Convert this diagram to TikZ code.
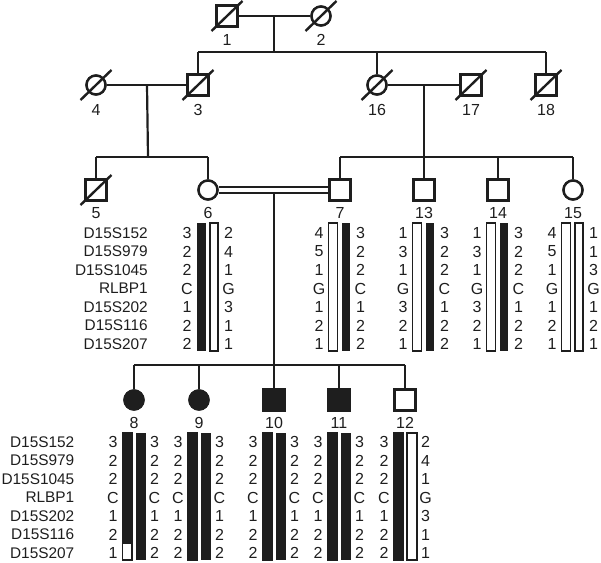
\documentclass[tikz,border=0pt]{standalone}
\usepackage{fontspec}
\setmainfont{Liberation Sans}
\usetikzlibrary{calc}
\definecolor{ink}{HTML}{1E1E1E}

\tikzset{
	male/.style={rectangle, draw=ink, line width=2.4pt, fill=white, minimum size=18.5pt, inner sep=0pt},
	female/.style={circle, draw=ink, line width=2.4pt, fill=white, minimum size=19pt, inner sep=0pt},
	affected/.style={fill=ink},
	kin/.style={draw=ink, line width=2.2pt},
	slash/.style={draw=ink, line width=2.4pt},
	idnum/.style={font=\fontsize{16}{16}\selectfont, text=ink, inner sep=0pt},
	allele/.style={font=\fontsize{16}{16}\selectfont, text=ink, inner sep=0pt},
	marker/.style={font=\fontsize{15.4}{16}\selectfont, text=ink, inner sep=0pt, anchor=east},
	solidbar/.style={fill=ink},
	openbar/.style={draw=ink, line width=1.6pt, fill=white},
}

\begin{document}
\begin{tikzpicture}[x=1pt, y=-1pt]
	\useasboundingbox (0,0) rectangle (601,562);
	% haplotype bars
	\foreach \cx/\sa/\sb in {208/solidbar/openbar, 340/openbar/solidbar, 424/openbar/solidbar, 498/openbar/solidbar, 573/openbar/openbar}
	{
		\path[\sa] (\cx-11.5,222.8) rectangle (\cx-2.5,351.2);
		\path[\sb] (\cx+1.8,222.8) rectangle (\cx+10.2,351.2);
	}
	\foreach \cx/\sa/\sb in {134/solidbar/solidbar, 199/solidbar/solidbar, 274/solidbar/solidbar, 339/solidbar/solidbar, 405/solidbar/openbar}
	{
		\path[\sa] (\cx-12.5,432) rectangle (\cx-1.5,561);
		\path[\sb] (\cx+1.8,432.8) rectangle (\cx+12.2,560.2);
	}
	\path[openbar] (134-11.7,543) rectangle (134-2.3,560.2);
	% marker names
	\foreach \m [count=\i] in {D15S152,D15S979,D15S1045,RLBP1,D15S202,D15S116,D15S207}
	{
		\node[marker] (mkA\i) at (148,{233+(\i-1)*18.5}) {\m};
		\node[marker] (mkB\i) at (74.5,{442+(\i-1)*18.5}) {\m};
	}
	% alleles
	\foreach \id/\cx/\yy/\la/\lb in {
		6/208/233/{3,2,2,C,1,2,2}/{2,4,1,G,3,1,1},
		7/340/233/{4,5,1,G,1,2,1}/{3,2,2,C,1,2,2},
		13/424/233/{1,3,1,G,3,2,1}/{3,2,2,C,1,2,2},
		14/498/233/{1,3,1,G,3,2,1}/{3,2,2,C,1,2,2},
		15/573/233/{4,5,1,G,1,2,1}/{1,1,3,G,1,2,1},
		8/134/442/{3,2,2,C,1,2,1}/{3,2,2,C,1,2,2},
		9/199/442/{3,2,2,C,1,2,2}/{3,2,2,C,1,2,2},
		10/274/442/{3,2,2,C,1,2,2}/{3,2,2,C,1,2,2},
		11/339/442/{3,2,2,C,1,2,2}/{3,2,2,C,1,2,2},
		12/405/442/{3,2,2,C,1,2,2}/{2,4,1,G,3,1,1}}
	{
		\foreach \a [count=\i] in \la
		\node[allele] (a\id-l\i) at (\cx-21,{\yy+(\i-1)*18.5}) {\a};
		\foreach \a [count=\i] in \lb
		\node[allele] (a\id-r\i) at (\cx+20.5,{\yy+(\i-1)*18.5}) {\a};
	}
	% connector points
	\coordinate (s1) at (274,52);
	\coordinate (s2) at (148,157);
	\coordinate (s3) at (424,157);
	\coordinate (s4) at (274,365);
	% generation I
	\node[male] (p1) at (227,16) {};
	\node[female] (p2) at (321,16) {};
	% generation II
	\node[female] (p4) at (96,85) {};
	\node[male] (p3) at (198,85) {};
	\node[female] (p16) at (377,85) {};
	\node[male] (p17) at (471,85) {};
	\node[male] (p18) at (546,85) {};
	% generation III
	\node[male] (p5) at (96,190) {};
	\node[female] (p6) at (208,190) {};
	\node[male] (p7) at (340,190) {};
	\node[male] (p13) at (424,190) {};
	\node[male] (p14) at (498,190) {};
	\node[female] (p15) at (573,190) {};
	% generation IV
	\node[female, affected] (p8) at (134,400) {};
	\node[female, affected] (p9) at (199,400) {};
	\node[male, affected] (p10) at (274,400) {};
	\node[male, affected] (p11) at (339,400) {};
	\node[male] (p12) at (405,400) {};
	% lines of descent
	\draw[kin] (p1.east) -- (p2.west);
	\draw[kin] ($(p1)!0.5!(p2)$) -- (s1);
	\draw[kin] (p3 |- s1) -- (p18 |- s1);
	\foreach \k in {3,16,18}
	\draw[kin] (p\k |- s1) -- (p\k.north);
	\draw[kin] (p4.east) -- (p3.west);
	\draw[kin] ($(p4)!0.5!(p3)$) -- (s2);
	\draw[kin] (p5 |- s2) -- (p6 |- s2);
	\foreach \k in {5,6}
	\draw[kin] (p\k |- s2) -- (p\k.north);
	\draw[kin] (p16.east) -- (p17.west);
	\draw[kin] ($(p16)!0.5!(p17)$) -- (s3);
	\draw[kin] (p7 |- s3) -- (p15 |- s3);
	\foreach \k in {7,13,14,15}
	\draw[kin] (p\k |- s3) -- (p\k.north);
	\draw[kin] ($(p6)!0.5!(p7)$) -- (s4);
	\draw[kin, double=white, double distance=3.6pt, line width=2pt] (p6.east) -- (p7.west);
	\draw[kin] (p8 |- s4) -- (p12 |- s4);
	\foreach \k in {8,9,10,11,12}
	\draw[kin] (p\k |- s4) -- (p\k.north);
	% redraw symbols over lines
	\foreach \k in {1,3,17,18,5,7,13,14,12}
	\path[male] (p\k.north west) rectangle (p\k.south east);
	\foreach \k in {2,4,16,6,15}
	\path[female] (p\k) circle (9.5pt);
	\foreach \k in {10,11}
	\path[male, affected] (p\k.north west) rectangle (p\k.south east);
	\foreach \k in {8,9}
	\path[female, affected] (p\k) circle (9.5pt);
	% deceased
	\foreach \k in {1,2,3,4,16,17,18,5}
	\draw[slash] ($(p\k)+(-15.5,15)$) -- ($(p\k)+(15.5,-15)$);
	% individual numbers
	\foreach \k/\dy in {1/24,2/24,3/25,4/25,16/25,17/25,18/25,5/23,6/23,7/23,13/23,14/23,15/23,8/23,9/23,10/23,11/23,12/23}
	\node[idnum] (n\k) at ($(p\k)+(0,\dy)$) {\k};
\end{tikzpicture}
\end{document}
